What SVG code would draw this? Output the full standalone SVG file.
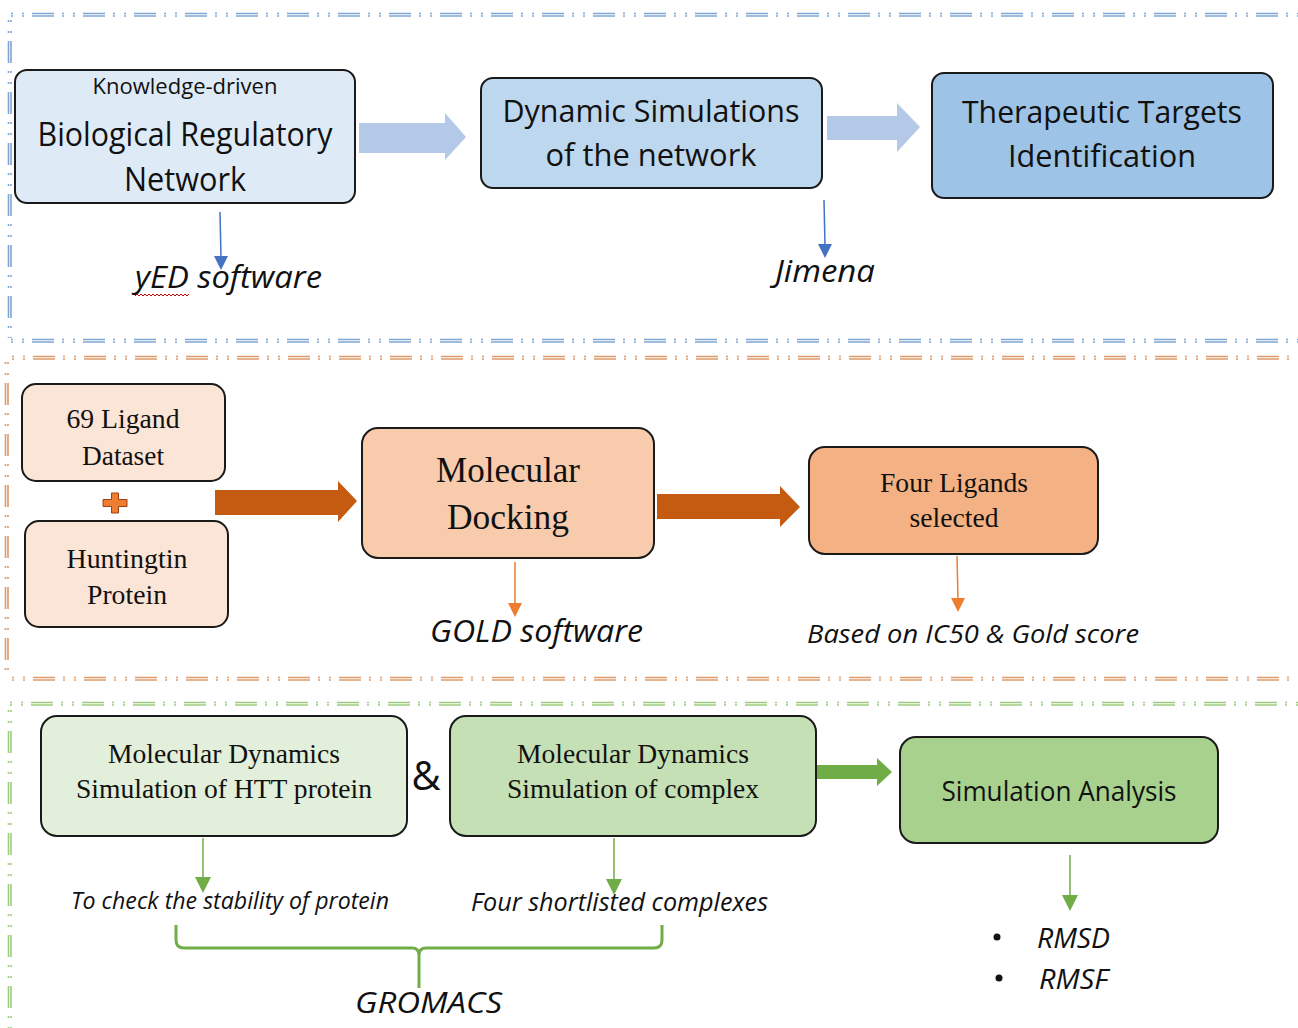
<svg xmlns="http://www.w3.org/2000/svg" width="1298" height="1028" viewBox="0 0 1298 1028">
<style>
.bd{fill:none;stroke-width:1.6;stroke-dasharray:2 9 2 8 22 8}
.b{stroke:#7fa6d2}.o{stroke:#dd9a6a}.g{stroke:#9ccb7e}
.box{stroke:#1a1a1a;stroke-width:2}
.sans{font-family:"Open Sans","Noto Sans","Liberation Sans",sans-serif;fill:#111}
.it{font-family:"Open Sans","Noto Sans","Liberation Sans",sans-serif;font-style:italic;fill:#111}
.ser{font-family:"Liberation Serif","Times New Roman",serif;fill:#111}
.thin{fill:none;stroke-width:1.5}
</style>
<rect width="1298" height="1028" fill="#fff"/>
<g id="borders">
<path class="bd b" d="M11 13.5H1298M11 16H1298M11 339.5H1298M11 342H1298"/>
<path class="bd b" d="M8.5 20V338M11 20V338"/>
<path class="bd o" d="M12 356.5H1298M12 359H1298M12 677.5H1298M12 680H1298"/>
<path class="bd o" d="M5.5 362V676M8 362V676"/>
<path class="bd g" d="M10 702.5H1298M10 705H1298"/>
<path class="bd g" d="M8.5 710V1028M11 710V1028"/>
</g>
<g id="connectors">
<path fill="#b4c9e8" d="M359 123H445V113L466 137L445 160V153H359Z"/>
<path fill="#b4c9e8" d="M827 116H897V103L920 127L897 152V140H827Z"/>
<path fill="#c55a11" d="M215 490H338V481L357 501L338 522V515H215Z"/>
<path fill="#c55a11" d="M657 494H780V486L800 507L780 527V519H657Z"/>
<path fill="#70ad47" d="M817 765H877V758L892 772L877 786V779H817Z"/>
<path class="thin" stroke="#4472c4" d="M220 212L221 258"/>
<path fill="#4472c4" d="M214 256H228L221 270Z"/>
<path class="thin" stroke="#4472c4" d="M824 200L825 246"/>
<path fill="#4472c4" d="M818 244H832L825 258Z"/>
<path class="thin" stroke="#ed7d31" d="M515 562V605"/>
<path fill="#ed7d31" d="M508 603H522L515 617Z"/>
<path class="thin" stroke="#ed7d31" d="M957 556L958 600"/>
<path fill="#ed7d31" d="M951 598H965L958 612Z"/>
<path class="thin" stroke="#70ad47" d="M203 838V879"/>
<path fill="#70ad47" d="M195 877H211L203 893Z"/>
<path class="thin" stroke="#70ad47" d="M614 838V881"/>
<path fill="#70ad47" d="M606 879H622L614 895Z"/>
<path class="thin" stroke="#70ad47" d="M1070 855V897"/>
<path fill="#70ad47" d="M1062 895H1078L1070 911Z"/>
<path fill="none" stroke="#70ad47" stroke-width="3" d="M176 925V940Q176 948 184 948H412Q419 948 419 955V988M419 955Q419 948 426 948H654Q662 948 662 940V925"/>
</g>
<g id="n1">
<rect class="box" x="15" y="70" width="340" height="133" rx="12" fill="#deebf7"/>
<text class="sans" x="185" y="94" font-size="21" text-anchor="middle" textLength="185" lengthAdjust="spacingAndGlyphs">Knowledge-driven</text>
<text class="sans" x="185" y="146" font-size="32" text-anchor="middle" textLength="295" lengthAdjust="spacingAndGlyphs">Biological Regulatory</text>
<text class="sans" x="185" y="191" font-size="32" text-anchor="middle" textLength="122" lengthAdjust="spacingAndGlyphs">Network</text>
</g>
<g id="n2">
<rect class="box" x="481" y="78" width="341" height="110" rx="12" fill="#bdd7ee"/>
<text class="sans" x="651" y="122" font-size="31" text-anchor="middle" textLength="297" lengthAdjust="spacingAndGlyphs">Dynamic Simulations</text>
<text class="sans" x="651" y="166" font-size="31" text-anchor="middle" textLength="211" lengthAdjust="spacingAndGlyphs">of the network</text>
</g>
<g id="n3">
<rect class="box" x="932" y="73" width="341" height="125" rx="12" fill="#9dc3e6"/>
<text class="sans" x="1102" y="123" font-size="31" text-anchor="middle" textLength="280" lengthAdjust="spacingAndGlyphs">Therapeutic Targets</text>
<text class="sans" x="1102" y="167" font-size="31" text-anchor="middle" textLength="188" lengthAdjust="spacingAndGlyphs">Identification</text>
</g>
<g id="l1">
<text class="it" x="135" y="288" font-size="31" textLength="187" lengthAdjust="spacingAndGlyphs">yED software</text>
<path fill="none" stroke="#c00000" stroke-width="1" d="M135 296l2 -2l2 2l2 -2l2 2l2 -2l2 2l2 -2l2 2l2 -2l2 2l2 -2l2 2l2 -2l2 2l2 -2l2 2l2 -2l2 2l2 -2l2 2l2 -2l2 2l2 -2l2 2l2 -2l2 2l2 -2"/>
</g>
<g id="l2">
<text class="it" x="775" y="282" font-size="31" textLength="100" lengthAdjust="spacingAndGlyphs">Jimena</text>
</g>
<g id="n4">
<rect class="box" x="22" y="384" width="203" height="97" rx="14" fill="#fbe5d6"/>
<text class="ser" x="123" y="428" font-size="28" text-anchor="middle" textLength="113" lengthAdjust="spacingAndGlyphs">69 Ligand</text>
<text class="ser" x="123" y="465" font-size="28" text-anchor="middle" textLength="82" lengthAdjust="spacingAndGlyphs">Dataset</text>
</g>
<g id="plus">
<path fill="#ed7d31" stroke="#a04010" stroke-width="1" d="M111.5 493H118.5V499.5H127V506.5H118.5V513H111.5V506.5H103V499.5H111.5Z"/>
</g>
<g id="n5">
<rect class="box" x="25" y="521" width="203" height="106" rx="14" fill="#fbe5d6"/>
<text class="ser" x="127" y="568" font-size="28" text-anchor="middle" textLength="121" lengthAdjust="spacingAndGlyphs">Huntingtin</text>
<text class="ser" x="127" y="604" font-size="28" text-anchor="middle" textLength="80" lengthAdjust="spacingAndGlyphs">Protein</text>
</g>
<g id="n6">
<rect class="box" x="362" y="428" width="292" height="130" rx="16" fill="#f8cbad"/>
<text class="ser" x="508" y="482" font-size="36" text-anchor="middle" textLength="144" lengthAdjust="spacingAndGlyphs">Molecular</text>
<text class="ser" x="508" y="529" font-size="36" text-anchor="middle" textLength="122" lengthAdjust="spacingAndGlyphs">Docking</text>
</g>
<g id="n7">
<rect class="box" x="809" y="447" width="289" height="107" rx="16" fill="#f4b183"/>
<text class="ser" x="954" y="492" font-size="28" text-anchor="middle" textLength="148" lengthAdjust="spacingAndGlyphs">Four Ligands</text>
<text class="ser" x="954" y="527" font-size="28" text-anchor="middle" textLength="89" lengthAdjust="spacingAndGlyphs">selected</text>
</g>
<g id="l3">
<text class="it" x="430" y="642" font-size="31" textLength="213" lengthAdjust="spacingAndGlyphs">GOLD software</text>
</g>
<g id="l4">
<text class="it" x="807" y="643" font-size="26" textLength="332" lengthAdjust="spacingAndGlyphs">Based on IC50 &amp; Gold score</text>
</g>
<g id="n8">
<rect class="box" x="41" y="716" width="366" height="120" rx="16" fill="#e2efda"/>
<text class="ser" x="224" y="763" font-size="28" text-anchor="middle" textLength="232" lengthAdjust="spacingAndGlyphs">Molecular Dynamics</text>
<text class="ser" x="224" y="798" font-size="28" text-anchor="middle" textLength="296" lengthAdjust="spacingAndGlyphs">Simulation of HTT protein</text>
</g>
<g id="amp">
<text class="sans" x="426" y="790" font-size="40" text-anchor="middle">&amp;</text>
</g>
<g id="n9">
<rect class="box" x="450" y="716" width="366" height="120" rx="16" fill="#c5e0b4"/>
<text class="ser" x="633" y="763" font-size="28" text-anchor="middle" textLength="232" lengthAdjust="spacingAndGlyphs">Molecular Dynamics</text>
<text class="ser" x="633" y="798" font-size="28" text-anchor="middle" textLength="252" lengthAdjust="spacingAndGlyphs">Simulation of complex</text>
</g>
<g id="n10">
<rect class="box" x="900" y="737" width="318" height="106" rx="16" fill="#a9d18e"/>
<text class="sans" x="1059" y="801" font-size="27" text-anchor="middle" textLength="235" lengthAdjust="spacingAndGlyphs">Simulation Analysis</text>
</g>
<g id="l5">
<text class="it" x="71" y="909" font-size="23" textLength="318" lengthAdjust="spacingAndGlyphs">To check the stability of protein</text>
</g>
<g id="l6">
<text class="it" x="471" y="911" font-size="26" textLength="297" lengthAdjust="spacingAndGlyphs">Four shortlisted complexes</text>
</g>
<g id="l7">
<text class="it" x="355" y="1013" font-size="30" textLength="147" lengthAdjust="spacingAndGlyphs">GROMACS</text>
</g>
<g id="l8">
<circle cx="997" cy="937" r="3.5" fill="#111"/>
<text class="it" x="1037" y="948" font-size="27" textLength="73" lengthAdjust="spacingAndGlyphs">RMSD</text>
<circle cx="999" cy="978" r="3.5" fill="#111"/>
<text class="it" x="1039" y="989" font-size="27" textLength="69" lengthAdjust="spacingAndGlyphs">RMSF</text>
</g>
</svg>
